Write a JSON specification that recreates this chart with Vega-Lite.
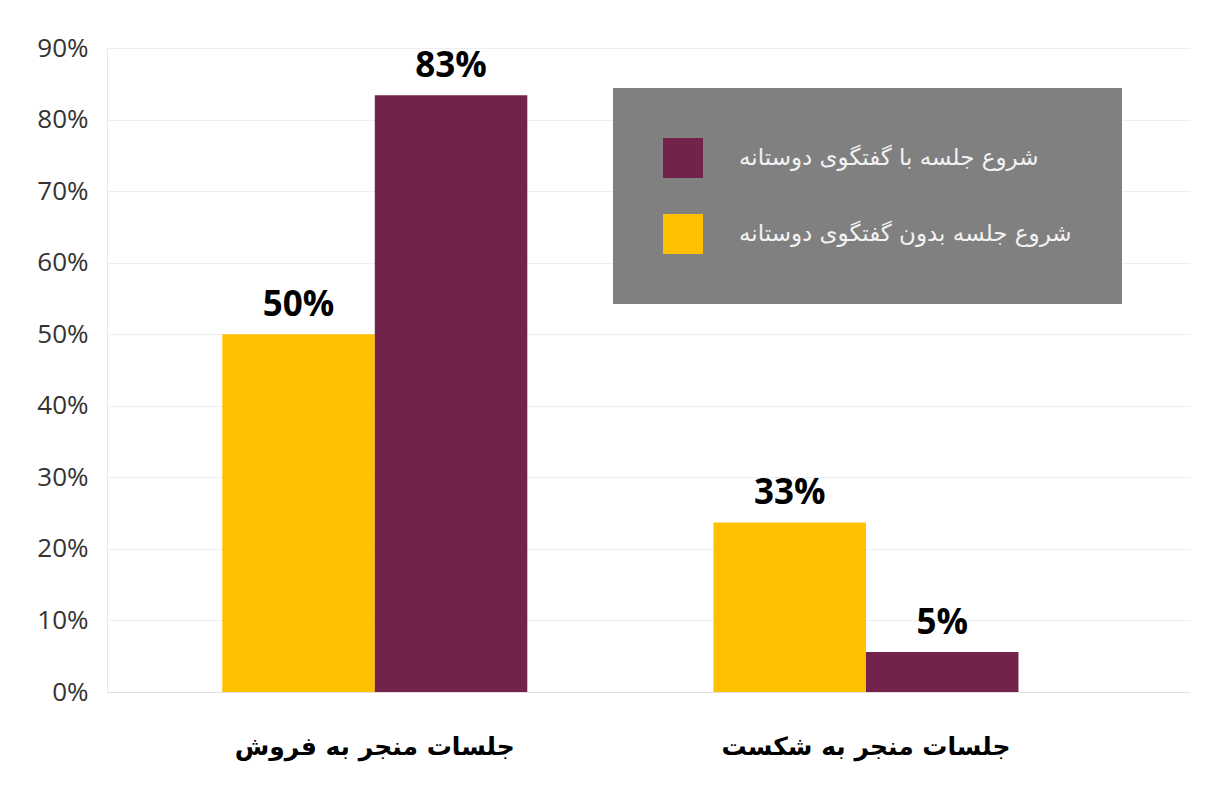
{
  "$schema": "https://vega.github.io/schema/vega-lite/v6.json",
  "width": 1083,
  "height": 644,
  "autosize": "none",
  "padding": {"left": 107, "top": 48, "right": 16, "bottom": 95},
  "background": "white",
  "data": {
    "values": [
      {"category": "جلسات منجر به فروش", "series": "شروع جلسه بدون گفتگوی دوستانه", "value": 50, "label": "50%"},
      {"category": "جلسات منجر به فروش", "series": "شروع جلسه با گفتگوی دوستانه", "value": 83.4, "label": "83%"},
      {"category": "جلسات منجر به شکست", "series": "شروع جلسه بدون گفتگوی دوستانه", "value": 23.7, "label": "33%"},
      {"category": "جلسات منجر به شکست", "series": "شروع جلسه با گفتگوی دوستانه", "value": 5.6, "label": "5%"}
    ]
  },
  "encoding": {
    "x": {
      "field": "category",
      "type": "nominal",
      "sort": ["جلسات منجر به فروش", "جلسات منجر به شکست"],
      "scale": {"paddingInner": 0.379, "paddingOuter": 0.292, "align": 0.402},
      "axis": {
        "title": null,
        "labelAngle": 0,
        "labelFont": "DejaVu Sans",
        "labelFontWeight": "bold",
        "labelFontSize": 25,
        "labelColor": "#000000",
        "labelPadding": 42,
        "labelLimit": 800,
        "ticks": false,
        "domainColor": "#e0e0e0",
        "grid": false
      }
    },
    "xOffset": {
      "field": "series",
      "type": "nominal",
      "scale": {"domain": ["شروع جلسه بدون گفتگوی دوستانه", "شروع جلسه با گفتگوی دوستانه"], "paddingInner": 0}
    },
    "y": {
      "field": "value",
      "type": "quantitative",
      "scale": {"domain": [0, 90], "nice": false},
      "axis": {
        "title": null,
        "values": [0, 10, 20, 30, 40, 50, 60, 70, 80, 90],
        "labelExpr": "datum.value + '%'",
        "labelFont": "Open Sans",
        "labelFontSize": 26,
        "labelColor": "#333333",
        "labelPadding": 19,
        "ticks": false,
        "domainColor": "#e8e8e8",
        "gridColor": "#eeeeee",
        "grid": true
      }
    }
  },
  "layer": [
    {
      "mark": {"type": "bar"},
      "encoding": {
        "color": {
          "field": "series",
          "type": "nominal",
          "scale": {
            "domain": ["شروع جلسه با گفتگوی دوستانه", "شروع جلسه بدون گفتگوی دوستانه"],
            "range": ["#73224B", "#FFC000"]
          },
          "legend": {
            "title": null,
            "orient": "none",
            "legendX": 506,
            "legendY": 40,
            "direction": "vertical",
            "fillColor": "#808080",
            "strokeColor": null,
            "padding": 50,
            "symbolType": "square",
            "symbolSize": 1600,
            "symbolStrokeWidth": 0,
            "symbolOpacity": 1,
            "rowPadding": 36,
            "labelOffset": 36,
            "labelFont": "DejaVu Sans",
            "labelFontSize": 23,
            "labelColor": "#f2f2f2",
            "labelLimit": 600
          }
        }
      }
    },
    {
      "mark": {
        "type": "text",
        "baseline": "alphabetic",
        "dy": -18,
        "font": "Open Sans",
        "fontWeight": "bold",
        "fontSize": 35,
        "color": "#000000"
      },
      "encoding": {
        "text": {"field": "label"}
      }
    }
  ],
  "config": {
    "view": {"stroke": null}
  }
}
